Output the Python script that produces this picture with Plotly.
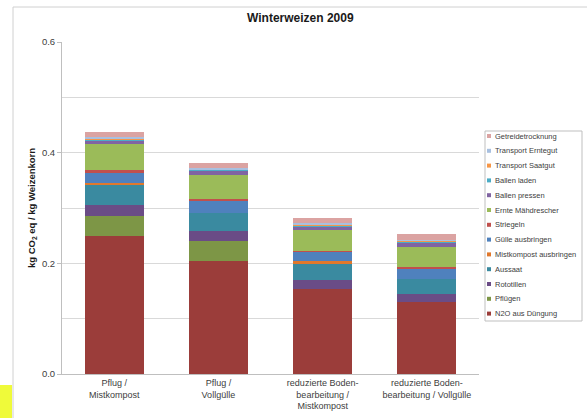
import plotly.graph_objects as go

categories = ["Pflug /<br>Mistkompost", "Pflug /<br>Vollgülle",
              "reduzierte Boden-<br>bearbeitung /<br>Mistkompost",
              "reduzierte Boden-<br>bearbeitung / Vollgülle"]

n2o = [0.249, 0.205, 0.154, 0.130]
pfluegen = [0.037, 0.035, 0.0, 0.0]
rototillen = [0.019, 0.018, 0.016, 0.0144]
aussaat = [0.036, 0.033, 0.029, 0.028]
mistkompost = [0.005, 0.0, 0.006, 0.0]
guelle = [0.019, 0.022, 0.0156, 0.018]
striegeln = [0.0036, 0.003, 0.0024, 0.003]
maehdrescher = [0.047, 0.044, 0.037, 0.037]
ballen_pressen = [0.006, 0.007, 0.007, 0.007]
ballen_laden = [0.002, 0.002, 0.002, 0.002]
transport_saatgut = [0.002, 0.001, 0.002, 0.001]
transport_erntegut = [0.0025, 0.002, 0.002, 0.002]
getreidetrocknung = [0.009, 0.010, 0.0096, 0.0108]

series = [
    ("N2O aus Düngung", n2o, "#9B3D3A"),
    ("Pflügen", pfluegen, "#7D9646"),
    ("Rototillen", rototillen, "#6A4C86"),
    ("Aussaat", aussaat, "#3A8AA0"),
    ("Mistkompost ausbringen", mistkompost, "#E0782C"),
    ("Gülle ausbringen", guelle, "#4F81BD"),
    ("Striegeln", striegeln, "#C0504D"),
    ("Ernte Mähdrescher", maehdrescher, "#9BBB59"),
    ("Ballen pressen", ballen_pressen, "#8064A2"),
    ("Ballen laden", ballen_laden, "#4BACC6"),
    ("Transport Saatgut", transport_saatgut, "#F79646"),
    ("Transport Erntegut", transport_erntegut, "#A8C0E0"),
    ("Getreidetrocknung", getreidetrocknung, "#DBA3A2"),
]

W, H = 587, 418
L, R, T, B = 62, 108, 42, 44
pw, ph = W - L - R, H - T - B

def px(x):
    return (x - L) / pw

def py(y):
    return (H - B - y) / ph

fig = go.Figure()
for name, vals, col in series:
    fig.add_trace(go.Bar(x=categories, y=vals, name=name, marker_color=col,
                         marker_line_width=0, showlegend=False))

shapes = []
annotations = []
# outer chart frame
shapes.append(dict(type="rect", xref="paper", yref="paper", x0=px(13), x1=px(620),
                   y0=py(440), y1=py(7), line=dict(color="#D0D0D0", width=1),
                   fillcolor="rgba(0,0,0,0)", layer="below"))
# yellow mark at bottom-left
shapes.append(dict(type="rect", xref="paper", yref="paper", x0=px(0), x1=px(12),
                   y0=py(418), y1=py(385), line=dict(width=0), fillcolor="#EFFA3A"))
# custom legend box
shapes.append(dict(type="rect", xref="paper", yref="paper", x0=px(485), x1=px(582),
                   y0=py(321), y1=py(131), line=dict(color="#BFBFBF", width=1),
                   fillcolor="white"))
for i, (name, vals, col) in enumerate(reversed(series)):
    yc = 136 + i * 14.8
    shapes.append(dict(type="rect", xref="paper", yref="paper", x0=px(487), x1=px(491),
                       y0=py(yc + 2), y1=py(yc - 2), line=dict(width=0), fillcolor=col))
    annotations.append(dict(text=name, xref="paper", yref="paper", x=px(492.5), y=py(yc),
                            xanchor="left", yanchor="middle", showarrow=False,
                            font=dict(size=7.5, color="#404040", family="Liberation Sans")))

annotations.append(dict(text="<b>Winterweizen 2009</b>", xref="paper", yref="paper",
                        x=px(300), y=py(18), xanchor="center", yanchor="middle",
                        showarrow=False, font=dict(size=12, color="#1a1a1a", family="Liberation Sans")))

fig.update_layout(
    width=W, height=H,
    margin=dict(l=L, r=R, t=T, b=B, autoexpand=False),
    barmode="stack", bargap=0.434,
    plot_bgcolor="white", paper_bgcolor="white",
    font=dict(family="Liberation Sans", color="#404040", size=9),
    shapes=shapes, annotations=annotations,
    xaxis=dict(showline=True, linecolor="#BFBFBF", linewidth=1, ticks="",
               tickfont=dict(size=9, color="#404040"), showgrid=False),
    yaxis=dict(range=[0, 0.6], tickvals=[0, 0.2, 0.4, 0.6],
               ticktext=["0.0", "0.2", "0.4", "0.6"],
               showline=True, linecolor="#BFBFBF", linewidth=1,
               ticks="outside", ticklen=4, tickcolor="#BFBFBF",
               showgrid=True, gridcolor="#D9D9D9", gridwidth=1,
               minor=dict(dtick=0.1, showgrid=True, gridcolor="#D9D9D9", ticks=""),
               tickfont=dict(size=9.5, color="#404040"),
               title=dict(text="<b>kg CO<sub>2</sub> eq / kg Weizenkorn</b>", standoff=4,
                          font=dict(size=9.5, color="#1a1a1a")),
               zeroline=False),
)

fig.write_html("out.html")
